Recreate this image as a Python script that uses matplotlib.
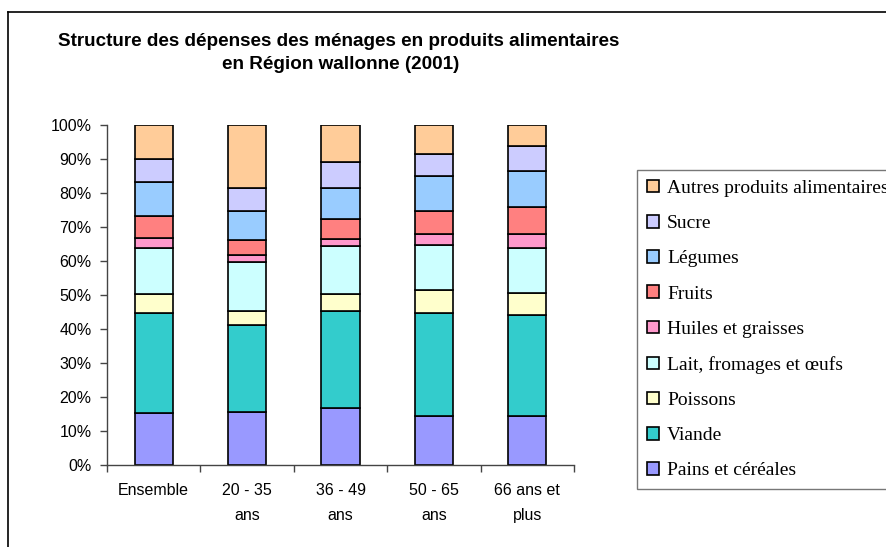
import matplotlib
matplotlib.use("Agg")
import matplotlib.pyplot as plt
from matplotlib.patches import Patch
from matplotlib.lines import Line2D
import numpy as np

categories = ["Ensemble", "20 - 35\nans", "36 - 49\nans", "50 - 65\nans", "66 ans et\nplus"]
series_names = ["Pains et céréales", "Viande", "Poissons", "Lait, fromages et œufs",
                "Huiles et graisses", "Fruits", "Légumes", "Sucre", "Autres produits alimentaires"]
pains = [15.3, 15.7, 16.7, 14.4, 14.4]
viande = [29.5, 25.6, 28.6, 30.4, 29.8]
poissons = [5.4, 4.0, 4.9, 6.7, 6.4]
lait = [13.6, 14.3, 14.1, 13.2, 13.2]
huiles = [3.1, 2.2, 2.3, 3.3, 4.2]
fruits = [6.4, 4.3, 5.8, 6.8, 7.8]
legumes = [9.9, 8.7, 9.2, 10.2, 10.7]
sucre = [6.7, 6.8, 7.4, 6.4, 7.2]
autres = [10.1, 18.4, 11.0, 8.6, 6.3]
series = [pains, viande, poissons, lait, huiles, fruits, legumes, sucre, autres]
colors = ["#9999FF", "#33CCCC", "#FFFFCC", "#CCFFFF", "#FF99CC", "#FF8080", "#99CCFF", "#CCCCFF", "#FFCC99"]
yticks = [0, 10, 20, 30, 40, 50, 60, 70, 80, 90, 100]

W, H = 886, 547
fig = plt.figure(figsize=(W / 100, H / 100), dpi=100)
ax = fig.add_axes([107 / W, 1 - 465 / H, (574 - 107) / W, 340 / H])

data = np.array(series, dtype=float)
totals = data.sum(axis=0)
pct = data / totals * 100
x = np.arange(len(categories))
bottom = np.zeros(len(categories))
handles = []
for name, vals, col in zip(series_names, pct, colors):
    ax.bar(x, vals, bottom=bottom, width=0.41, color=col, edgecolor="black", linewidth=1.2, zorder=2)
    bottom += vals
    handles.append(Patch(facecolor=col, edgecolor="black", linewidth=1.2, label=name))

ax.set_xlim(-0.5, len(categories) - 0.5)
ax.set_ylim(0, 100)
ax.set_yticks(yticks)
ax.set_yticklabels([f"{v}%" for v in yticks], fontsize=11.5, family="Liberation Sans")
ax.set_xticks(np.arange(-0.5, len(categories), 1))
ax.set_xticklabels([])
ax.set_xticks(x, labels=categories, minor=True)
for lab in ax.get_xticklabels(minor=True):
    lab.set_fontsize(11.5)
    lab.set_family("Liberation Sans")
    lab.set_linespacing(1.8)
ax.tick_params(axis="x", which="minor", length=0, pad=13)
ax.tick_params(axis="x", which="major", length=5, width=1, color="#444444")
ax.tick_params(axis="y", length=5, width=1, color="#444444", pad=6)
for s in ["top", "right"]:
    ax.spines[s].set_visible(False)
for s in ["left", "bottom"]:
    ax.spines[s].set_color("#444444")
    ax.spines[s].set_linewidth(1)

fig.text(339 / W, 1 - 46 / H, "Structure des dépenses des ménages en produits alimentaires",
         ha="center", va="baseline", fontsize=13.6, fontweight="bold", family="Liberation Sans")
fig.text(341 / W, 1 - 69 / H, "en Région wallonne (2001)",
         ha="center", va="baseline", fontsize=13.6, fontweight="bold", family="Liberation Sans")

leg = fig.legend(handles=handles[::-1], loc="upper left",
                 bbox_to_anchor=(637 / W, 1 - 170 / H), bbox_transform=fig.transFigure,
                 borderaxespad=0, frameon=True, fancybox=False,
                 prop={"family": "Liberation Serif", "size": 14},
                 handlelength=0.62, handleheight=0.62, handletextpad=0.42,
                 labelspacing=0.93, borderpad=0.5)
leg.get_frame().set_edgecolor("#555555")
leg.get_frame().set_linewidth(1)

fig.add_artist(Line2D([8 / W, 8 / W], [0, 1 - 12 / H], transform=fig.transFigure, color="black", lw=1.2))
fig.add_artist(Line2D([8 / W, 1], [1 - 12 / H, 1 - 12 / H], transform=fig.transFigure, color="black", lw=1.2))

fig.savefig("out.png", dpi=100)
